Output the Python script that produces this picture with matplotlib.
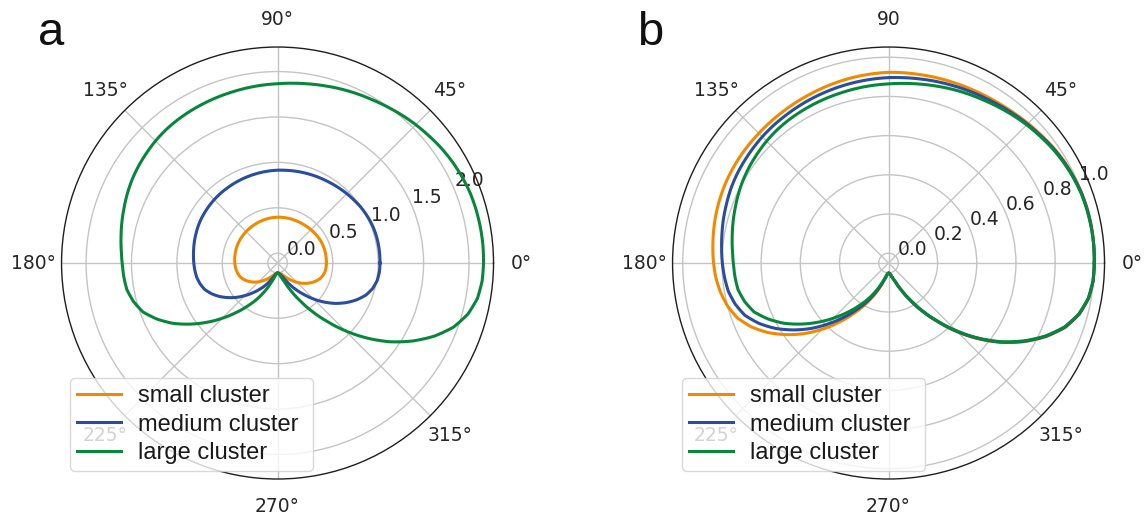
import numpy as np
import matplotlib
matplotlib.use("Agg")
import matplotlib.pyplot as plt

# ---------------- data ----------------
angles_deg = list(range(0, 360, 5))
cluster_labels = ["small cluster", "medium cluster", "large cluster"]
cluster_colors = ["#f18a00", "#2a4d9f", "#08873c"]

# normalised angular profiles (panel b), one value every 5 degrees
norm_small = [1.000, 1.001, 1.002, 1.001, 0.998, 0.993, 0.986, 0.977, 0.966, 0.957,
              0.948, 0.941, 0.936, 0.932, 0.929, 0.927, 0.925, 0.924, 0.923, 0.919,
              0.915, 0.910, 0.905, 0.900, 0.896, 0.892, 0.889, 0.886, 0.884, 0.882,
              0.879, 0.875, 0.870, 0.864, 0.857, 0.850, 0.843, 0.834, 0.820, 0.800,
              0.770, 0.722, 0.660, 0.587, 0.510, 0.427, 0.345, 0.268, 0.200, 0.138,
              0.085, 0.045, 0.020, 0.005, 0.000, 0.003, 0.011, 0.027, 0.053, 0.102,
              0.168, 0.250, 0.342, 0.447, 0.553, 0.657, 0.752, 0.838, 0.910, 0.958,
              0.987, 0.998]
norm_medium = [1.000, 1.001, 1.001, 1.000, 0.997, 0.991, 0.983, 0.974, 0.962, 0.952,
               0.942, 0.933, 0.925, 0.919, 0.913, 0.908, 0.903, 0.899, 0.896, 0.892,
               0.888, 0.884, 0.880, 0.876, 0.872, 0.868, 0.865, 0.861, 0.856, 0.851,
               0.846, 0.839, 0.830, 0.822, 0.813, 0.805, 0.798, 0.790, 0.780, 0.760,
               0.730, 0.679, 0.617, 0.545, 0.470, 0.391, 0.316, 0.246, 0.184, 0.127,
               0.078, 0.041, 0.018, 0.005, 0.000, 0.003, 0.011, 0.027, 0.052, 0.100,
               0.165, 0.247, 0.338, 0.443, 0.549, 0.654, 0.749, 0.835, 0.908, 0.957,
               0.986, 0.998]
norm_large = [1.000, 1.001, 1.000, 0.998, 0.995, 0.988, 0.980, 0.970, 0.958, 0.947,
              0.935, 0.923, 0.912, 0.903, 0.894, 0.885, 0.877, 0.870, 0.864, 0.860,
              0.856, 0.852, 0.849, 0.846, 0.843, 0.840, 0.836, 0.830, 0.822, 0.814,
              0.805, 0.794, 0.782, 0.771, 0.760, 0.750, 0.742, 0.737, 0.730, 0.710,
              0.680, 0.627, 0.565, 0.493, 0.420, 0.348, 0.280, 0.219, 0.165, 0.114,
              0.070, 0.037, 0.015, 0.004, 0.000, 0.003, 0.010, 0.026, 0.050, 0.098,
              0.162, 0.243, 0.334, 0.438, 0.545, 0.650, 0.745, 0.832, 0.905, 0.955,
              0.985, 0.997]

# peak radius of each cluster in panel a
peak_a = [0.43, 1.02, 2.16]

theta_ticks = [0, 45, 90, 135, 180, 225, 270, 315]
theta_labels_a = ["0°", "45°", "90°", "135°", "180°", "225°", "270°", "315°"]
theta_labels_b = ["0°", "45°", "90", "135°", "180°", "225°", "270°", "315°"]
rticks_a = [0.0, 0.5, 1.0, 1.5, 2.0]
rticks_b = [0.0, 0.2, 0.4, 0.6, 0.8, 1.0]

# ---------------- style ----------------
plt.rcParams["font.family"] = ["DejaVu Sans"]
TXT = "#262626"

fig = plt.figure(figsize=(11.44, 5.23), dpi=100)
ax_a = fig.add_axes([0.0538, 0.0841, 0.3776, 0.826], projection="polar")
ax_b = fig.add_axes([0.5879, 0.0841, 0.3776, 0.826], projection="polar")

profiles = [norm_small, norm_medium, norm_large]


def draw(ax, scales, rticks, tlabels, leg_x):
    th = np.deg2rad(np.array(angles_deg + [360]))
    rmax = 0.0
    for prof, s, col, lab in zip(profiles, scales, cluster_colors, cluster_labels):
        r = np.array(prof + prof[:1]) * s
        rmax = max(rmax, r.max())
        ln, = ax.plot(th, r, color=col, lw=2.2, label=lab,
                      solid_joinstyle="round")
        try:
            ln._path._interpolation_steps = 8
        except Exception:
            pass
    ax.set_rlim(-0.05 * rmax, 1.05 * rmax)
    ax.set_rticks(rticks)
    ax.set_thetagrids(theta_ticks, tlabels)
    ax.tick_params(axis="x", pad=13, labelsize=13.5, labelcolor=TXT, size=0)
    ax.tick_params(axis="y", labelsize=13.5, labelcolor=TXT, size=0)
    ax.grid(True, color="#c4c4c4", lw=1.0)
    ax.spines["polar"].set_color("#1e1e1e")
    ax.spines["polar"].set_linewidth(1.0)
    leg = ax.legend(loc="lower left",
                    bbox_to_anchor=(leg_x, 52 / 523, 243 / 1144, 0.1),
                    bbox_transform=fig.transFigure, borderaxespad=0,
                    mode="expand",
                    prop={"family": "Liberation Sans", "size": 17},
                    handlelength=1.85, handletextpad=0.75, labelspacing=0.27,
                    borderpad=0.3, frameon=True, fancybox=True, framealpha=0.8,
                    edgecolor="#d0d0d0")
    leg.get_frame().set_linewidth(1.0)
    for t in leg.get_texts():
        t.set_color("#1a1a1a")


draw(ax_a, peak_a, rticks_a, theta_labels_a, 70 / 1144)
draw(ax_b, [1.0, 1.0, 1.0], rticks_b, theta_labels_b, 682 / 1144)

fig.text(0.033, 0.914, "a", fontsize=34, family="Liberation Sans", color="#111111", va="baseline")
fig.text(0.557, 0.914, "b", fontsize=34, family="Liberation Sans", color="#111111", va="baseline")

fig.savefig("out.png", dpi=100)
